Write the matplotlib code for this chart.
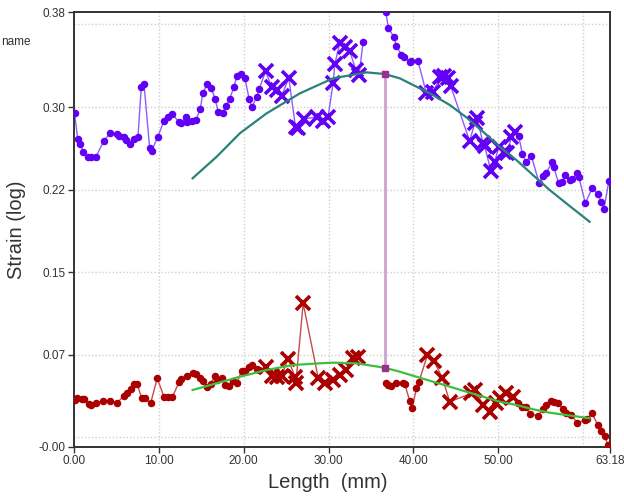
import numpy as np
import matplotlib
matplotlib.use("Agg")
import matplotlib.pyplot as plt

nan = np.nan

# ---------------- data ----------------
upper_x = [0.06, 0.44, 0.74, 1.10, 1.61, 1.97, 2.59, 3.50, 4.28, 5.03, 5.30, 5.85, 6.12, 6.60,
           7.07, 7.54, 7.93, 8.25, 8.92, 9.15, 9.86, 10.60, 11.11, 11.58, 12.37, 12.57, 13.19,
           13.35, 13.86, 14.37, 14.88, 15.19, 15.70, 16.17, 16.64, 17.00, 17.51, 17.90, 18.34,
           18.85, 19.20, 19.63, 20.14, 20.65, 20.97, 21.52, 21.83,
           22.58, 23.29, 23.88, 24.46, 25.32, 26.11, 26.42, 27.06, 28.59, 29.36, 29.95, 30.54,
           30.74, 31.33, 31.92, 32.51, 33.22, 33.60, 34.08, nan,
           36.75, 37.07, 37.69, 38.01, 38.60, 38.90, 39.58, 39.78, 40.55,
           41.54, 42.32, 43.19, 43.58, 44.09, 44.40, 46.64, 47.23, 47.55, 48.21, 48.41, 49.12,
           49.59, 50.06, 50.65, 51.04, 51.55, 51.94,
           52.41, 52.85, 53.24, 53.91, 54.81, 55.28, 55.68, 56.34, 56.54, 57.13, 57.56, 57.92,
           58.42, 58.74, 59.33, 59.52, 60.27, 61.10, 61.75, 62.15, 62.46, 63.05]
upper_y = [0.2944, 0.2703, 0.2656, 0.2582, 0.2536, 0.2536, 0.2536, 0.2684, 0.2758, 0.2749,
           0.2731, 0.2721, 0.2693, 0.2656, 0.2703, 0.2721, 0.3186, 0.3214, 0.2619, 0.2591,
           0.2721, 0.2870, 0.2907, 0.2935, 0.2861, 0.2851, 0.2907, 0.2861, 0.2870, 0.2879,
           0.2981, 0.3130, 0.3214, 0.3177, 0.3074, 0.2954, 0.2944, 0.3009, 0.3074, 0.3186,
           0.3288, 0.3307, 0.3269, 0.3074, 0.3000, 0.3093, 0.3167,
           0.3334, 0.3186, 0.3158, 0.3102, 0.3269, 0.2814, 0.2805, 0.2889, 0.2907, 0.2870,
           0.2907, 0.3223, 0.3399, 0.3595, 0.3557, 0.3520, 0.3344, 0.3297, 0.3604, nan,
           0.3882, 0.3731, 0.3653, 0.3569, 0.3483, 0.3467, 0.3415, 0.3427, 0.3427,
           0.3127, 0.3142, 0.3276, 0.3288, 0.3272, 0.3195, 0.2684, 0.2849, 0.2895, 0.2663,
           0.2640, 0.2408, 0.2492, 0.2631, 0.2585, 0.2570, 0.2718, 0.2771,
           0.2733, 0.2563, 0.2492, 0.2548, 0.2297, 0.2359, 0.2390, 0.2486, 0.2445, 0.2291,
           0.2306, 0.2368, 0.2322, 0.2328, 0.2384, 0.2347, 0.2105, 0.2250, 0.2189, 0.2120,
           0.2050, 0.2313]
upper_flag = ([0] * 47 + [1] * 18 + [0] * 2 + [0] * 9 + [1] * 18 + [0] * 22)

lower_x = [0.08, 0.39, 0.91, 1.18, 1.80, 1.97, 2.56, 3.45, 4.24, 5.10, 5.89, 6.21, 6.68, 7.07,
           7.46, 7.97, 8.36, 9.03, 9.81, 10.60, 11.11, 11.58, 12.40, 12.57, 13.27, 13.98, 14.37,
           14.84, 15.16, 15.70, 16.10, 16.61, 16.88, 17.40, 17.79, 18.29, 18.76, 19.23, 19.75,
           20.14, 20.65, 20.93, 21.52, 21.83,
           22.58, 23.29, 23.88, 24.46, 25.24, 26.03, 26.15, 27.01, 28.78, 29.56, 30.54, 31.33,
           32.12, 32.90, 33.49, nan,
           36.75, 37.02, 37.42, 38.01, 38.79, 38.99, 39.58, 39.85, 40.37, 40.64,
           41.66, 42.44, 43.43, 44.29, 46.84, 47.23, 48.21, 49.00, 49.79, 50.18, 50.88, 51.74,
           52.33, 52.85, 53.24, 53.79, 54.69, 55.28, 55.68, 56.27, 56.54, 57.04, 57.63, 58.03,
           58.62, 59.33, 60.19, 60.46, 61.05, 61.75, 62.15, 62.54, 62.93]
lower_y = [0.0278, 0.0299, 0.0285, 0.0287, 0.0238, 0.0232, 0.0247, 0.0269, 0.0271, 0.0253,
           0.0318, 0.0340, 0.0377, 0.0424, 0.0424, 0.0294, 0.0294, 0.0247, 0.0480, 0.0309,
           0.0309, 0.0303, 0.0448, 0.0470, 0.0501, 0.0532, 0.0520, 0.0480, 0.0455, 0.0396,
           0.0427, 0.0501, 0.0464, 0.0485, 0.0417, 0.0408, 0.0455, 0.0439, 0.0550, 0.0547,
           0.0587, 0.0603, 0.0563, 0.0557,
           0.0582, 0.0501, 0.0494, 0.0501, 0.0662, 0.0494, 0.0436, 0.1176, 0.0485, 0.0433,
           0.0464, 0.0510, 0.0557, 0.0665, 0.0680, nan,
           0.0439, 0.0417, 0.0408, 0.0433, 0.0433, 0.0424, 0.0269, 0.0201, 0.0387, 0.0442,
           0.0696, 0.0640, 0.0480, 0.0262, 0.0340, 0.0371, 0.0232, 0.0169, 0.0247, 0.0294,
           0.0346, 0.0309,
           0.0253, 0.0216, 0.0210, 0.0148, 0.0132, 0.0192, 0.0232, 0.0271, 0.0262, 0.0247,
           0.0192, 0.0155, 0.0139, 0.0062, 0.0092, 0.0099, 0.0155, 0.0046, -0.0010, -0.0054,
           -0.0140]
lower_flag = ([0] * 44 + [1] * 15 + [0] + [0] * 10 + [1] * 12 + [0] * 21)

upper_fit_x = [13.98, 16.81, 19.55, 22.70, 26.62, 30.54, 34.48, 36.60, 38.40, 40.37, 42.32,
               44.29, 46.25, 48.21, 50.18, 52.14, 54.10, 56.07, 58.03, 60.78]
upper_fit_y = [0.2338, 0.2538, 0.2756, 0.2941, 0.3127, 0.3267, 0.3322, 0.3307, 0.3267, 0.3189,
               0.3111, 0.3019, 0.2904, 0.2771, 0.2631, 0.2508, 0.2368, 0.2229, 0.2105, 0.1934]
lower_fit_x = [13.98, 19.55, 22.70, 25.83, 28.98, 30.54, 33.30, 36.60, 38.40, 40.37, 42.32,
               44.29, 46.25, 48.21, 50.18, 52.14, 54.10, 56.07, 58.03, 60.78]
lower_fit_y = [0.0371, 0.0494, 0.0557, 0.0603, 0.0619, 0.0625, 0.0619, 0.0578, 0.0541, 0.0494,
               0.0448, 0.0402, 0.0355, 0.0309, 0.0262, 0.0232, 0.0192, 0.0160, 0.0139, 0.0108]

marker_x = 36.60
marker_y_top = 0.3307
marker_y_bottom = 0.0578

x_ticks = [0.0, 10.0, 20.0, 30.0, 40.0, 50.0, 63.18]
x_tick_labels = ["0.00", "10.00", "20.00", "30.00", "40.00", "50.00", "63.18"]
x_grid = [10, 20, 30, 40, 50, 60]
y_ticks = [-0.0154, 0.07, 0.1467, 0.2233, 0.30, 0.3883]
y_tick_labels = ["-0.00", "0.07", "0.15", "0.22", "0.30", "0.38"]
y_grid = [-0.0067, 0.07, 0.1467, 0.2233, 0.30, 0.3767]
x_limits = (0.0, 63.18)
y_limits = (-0.0154, 0.3883)

# ---------------- plot ----------------
plt.rcParams['font.family'] = ['Liberation Sans', 'DejaVu Sans']

fig = plt.figure(figsize=(6.24, 4.98), dpi=100)
ax = fig.add_axes([74 / 624, 1 - 446.5 / 498, 536 / 624, (446.5 - 12) / 498])

for gx in x_grid:
    ax.axvline(gx, color='#d0d0d0', lw=1, ls=(0, (1, 1.5)), zorder=0)
for gy in y_grid:
    ax.axhline(gy, color='#d0d0d0', lw=1, ls=(0, (1, 1.5)), zorder=0)

ux = np.array(upper_x); uy = np.array(upper_y); uf = np.array(upper_flag, dtype=bool)
lx = np.array(lower_x); ly = np.array(lower_y); lf = np.array(lower_flag, dtype=bool)

purple = '#6200f5'
red = '#aa0000'

ax.plot(ux, uy, color='#8c5cff', lw=1.0, zorder=2)
ax.plot(ux[~uf], uy[~uf], ls='none', marker='o', ms=4.4, color=purple, mec=purple, zorder=3)
ax.plot(ux[uf], uy[uf], ls='none', marker='x', ms=10, mew=2.6, color=purple, zorder=3)

ax.plot(lx, ly, color='#c84a4a', lw=1.0, zorder=2)
ax.plot(lx[~lf], ly[~lf], ls='none', marker='o', ms=4.4, color=red, mec=red, zorder=3)
ax.plot(lx[lf], ly[lf], ls='none', marker='x', ms=10, mew=2.6, color=red, zorder=3)

ax.plot(upper_fit_x, upper_fit_y, color='#2a8279', lw=1.6, zorder=4)
ax.plot(lower_fit_x, lower_fit_y, color='#3cbf3c', lw=1.6, zorder=4)

ax.plot([marker_x, marker_x], [marker_y_bottom, marker_y_top], color='#cfa2d4', lw=2.0, zorder=4)
ax.plot([marker_x, marker_x], [marker_y_bottom, marker_y_top], ls='none', marker='s', ms=4.0,
        color='#9a2f8f', zorder=5)

ax.set_xlim(*x_limits)
ax.set_ylim(*y_limits)
ax.set_xticks(x_ticks)
ax.set_xticklabels(x_tick_labels)
ax.set_yticks(y_ticks)
ax.set_yticklabels(y_tick_labels)
ax.tick_params(axis='both', labelsize=8.5, length=4, width=1, color='#333333',
               labelcolor='#333333', pad=2)

for s in ax.spines.values():
    s.set_color('#333333')
    s.set_linewidth(1.4)

ax.set_ylabel('Strain (log)', fontsize=14.5, color='#333333', labelpad=9)
ax.set_xlabel('Length  (mm)', fontsize=14.5, color='#333333')
ax.xaxis.set_label_coords(0.474, -0.062)

fig.text(31 / 624, 1 - 42 / 498, 'name', ha='right', va='center', fontsize=8.5, color='#333333')

fig.savefig('out.png', dpi=100, facecolor='white')
